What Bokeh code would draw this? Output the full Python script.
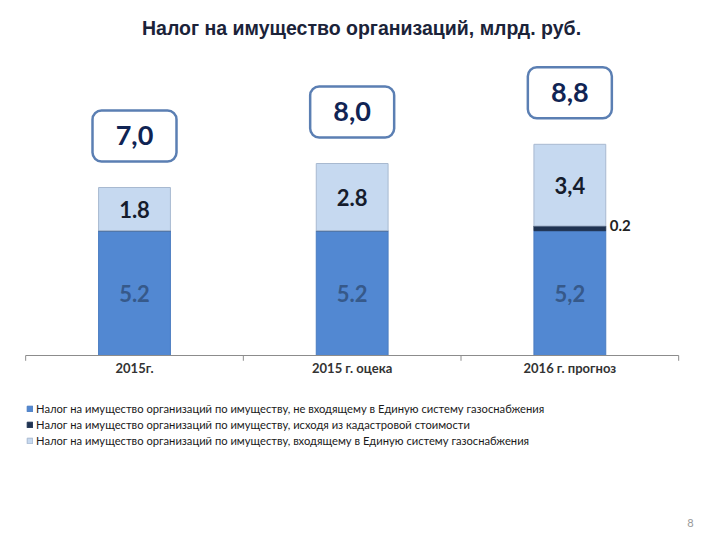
from bokeh.plotting import figure
from bokeh.models import (Range1d, Legend, LegendItem, ColumnDataSource)
from bokeh.core.properties import value
from bokeh.embed import file_html
from bokeh.resources import INLINE

# ---- data ----
categories = ["2015г.", "2015 г. оцека", "2016 г. прогноз"]
non_gas = [5.2, 5.2, 5.2]          # не входящему в ЕСГ
cadastral = [0.0, 0.0, 0.2]        # исходя из кадастровой стоимости
gas = [1.8, 2.8, 3.4]              # входящему в ЕСГ
totals_text = ["7,0", "8,0", "8,8"]
non_gas_text = ["5.2", "5.2", "5,2"]
gas_text = ["1.8", "2.8", "3,4"]
cadastral_text = ["", "", "0.2"]
series_names = [
    "Налог на имущество организаций по имуществу, не входящему в Единую систему газоснабжения",
    "Налог на имущество организаций по имуществу, исходя из кадастровой стоимости",
    "Налог на имущество организаций по имуществу, входящему в Единую систему газоснабжения",
]
title_text = "Налог на имущество организаций, млрд. руб."
page_number = "8"

BLUE = "#5288d2"
DARK = "#1f3352"
LIGHT = "#c6d9f0"

W, H = 720, 540
X0_PX, PX_PER_CAT = 134.0, 217.67      # layout of category slots
Y0_PX, PX_PER_UNIT = 355.0, 24.0       # layout of value axis


def px(xp):
    return (xp - X0_PX) / PX_PER_CAT


def py(yp):
    return (Y0_PX - yp) / PX_PER_UNIT


idx = list(range(len(categories)))
totals = [a + b + c for a, b, c in zip(non_gas, cadastral, gas)]

src = ColumnDataSource(dict(
    x=idx, cat=categories, non_gas=non_gas, cadastral=cadastral, gas=gas,
    totals=totals,
    mid_non_gas=[v / 2 for v in non_gas],
    mid_gas=[a + b + c / 2 for a, b, c in zip(non_gas, cadastral, gas)],
    top_cad=[a + b for a, b in zip(non_gas, cadastral)],
    box_y=[t + 2.15 for t in totals],
    totals_text=totals_text, non_gas_text=non_gas_text,
    gas_text=gas_text, cadastral_text=cadastral_text,
))

p = figure(width=W, height=H, output_backend="svg", toolbar_location=None,
           x_range=Range1d(px(0), px(W)), y_range=Range1d(py(H), py(0)),
           min_border=0)
p.outline_line_color = None
p.grid.visible = False
p.xaxis.visible = False
p.yaxis.visible = False
p.background_fill_color = "white"
p.border_fill_color = "white"

stack = p.vbar_stack(["non_gas", "cadastral", "gas"], x="x", width=0.33, source=src,
                     fill_color=[BLUE, DARK, LIGHT],
                     line_color=["#4a7cc0", DARK, "#a8b9d0"], line_width=1)

# category axis: baseline, separators and labels
n = len(categories)
p.segment(x0=[-0.5], y0=[0], x1=[n - 0.5], y1=[0], line_color="#8c8c8c", line_width=1)
seps = [i - 0.5 for i in range(n + 1)]
p.segment(x0=seps, y0=[0] * len(seps), x1=seps, y1=[-0.22] * len(seps),
          line_color="#8c8c8c", line_width=1)
p.text(x="x", y=-0.5, text="cat", source=src,
       text_font=value("Lato"), text_font_style="bold", text_font_size="13px",
       text_color="#333333", text_align="center", text_baseline="middle")

# segment labels
p.text(x="x", y="mid_non_gas", text="non_gas_text", source=src,
       text_font=value("Lato"), text_font_style="bold", text_font_size="22px",
       text_color="#36598a", text_align="center", text_baseline="middle")
p.text(x="x", y="mid_gas", text="gas_text", source=src,
       text_font=value("Lato"), text_font_style="bold", text_font_size="22px",
       text_color="#151c2c", text_align="center", text_baseline="middle")
p.text(x="x", y="top_cad", text="cadastral_text", source=src, x_offset=40,
       text_font=value("Lato"), text_font_style="bold", text_font_size="15px",
       text_color="#222222", text_align="left", text_baseline="middle")

# total boxes
p.rect(x="x", y="box_y", width=84, height=51, width_units="screen", height_units="screen",
       source=src, fill_color="white", line_color="#5b7fb3", line_width=2.5,
       border_radius=9)
p.text(x="x", y="box_y", text="totals_text", source=src,
       text_font=value("Lato"), text_font_style="bold", text_font_size="27px",
       text_color="#102454", text_align="center", text_baseline="middle")

# title and page number
p.text(x=[px(361)], y=[py(27)], text=[title_text],
       text_font=value("Liberation Sans"), text_font_style="bold", text_font_size="19.5px",
       text_color="#1b2339", text_align="center", text_baseline="middle")
p.text(x=[px(690)], y=[py(522)], text=[page_number],
       text_font=value("Lato"), text_font_size="11px",
       text_color="#999999", text_align="center", text_baseline="middle")

legend = Legend(items=[LegendItem(label=series_names[i], renderers=[stack[i]]) for i in range(3)],
                location=(26, H - 447), orientation="vertical",
                glyph_width=7, glyph_height=7, label_text_font="Lato",
                label_text_font_size="11.2px", label_text_color="#1a1a1a",
                label_height=10, label_standoff=3, spacing=3, padding=0, margin=0,
                border_line_color=None, background_fill_alpha=0)
p.add_layout(legend, "center")

open("out.html", "w").write(file_html(p, INLINE))
